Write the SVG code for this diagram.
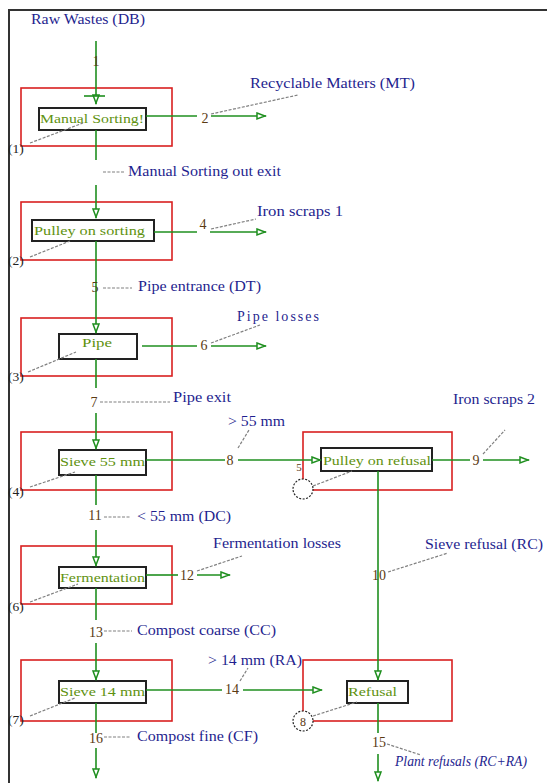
<svg xmlns="http://www.w3.org/2000/svg" width="547" height="783" viewBox="0 0 547 783">
<style>
.frame{stroke:#333;stroke-width:2;fill:none}
.outer{fill:none;stroke:#d92020;stroke-width:1.6}
.inner{fill:#fff;stroke:#222;stroke-width:2}
.nt{font-family:"Liberation Serif",serif;font-size:13.5px;fill:#5f9210}
.lb{font-family:"Liberation Serif",serif;font-size:14px;fill:#1f1f8f}
.num{font-family:"Liberation Serif",serif;font-size:14px;fill:#5a3a12;text-anchor:middle}
.idx{font-family:"Liberation Serif",serif;font-size:13.5px;fill:#222}
.ld{stroke:#808080;stroke-width:1.2;stroke-dasharray:3 1.5;fill:none}
.e{stroke:#1f8f1f;stroke-width:1.6;fill:none}
.ea{stroke:#1f8f1f;stroke-width:1.6;fill:none;marker-end:url(#arr)}
.circ{fill:#fff;stroke:#222;stroke-width:1.2;stroke-dasharray:2 1.5}
</style>
<defs>
<marker id="arr" markerUnits="userSpaceOnUse" markerWidth="12" markerHeight="10" viewBox="0 0 12 10" refX="11" refY="5" orient="auto">
<path d="M2,1.5 V8.5 M2,2 L10,5 L2,8 Z" fill="#fff" stroke="#1f8f1f" stroke-width="1.5"/>
</marker>
</defs>
<rect width="547" height="783" fill="#fff"/>
<g id="frame">
<line class="frame" x1="8" y1="10" x2="547" y2="10"/>
<line class="frame" x1="9" y1="10" x2="9" y2="783"/>
</g>
<g id="n1">
<rect class="outer" x="21" y="88" width="151" height="58"/>
<rect class="inner" x="39" y="108" width="107" height="22"/>
<text class="nt" x="40" y="123" textLength="104" lengthAdjust="spacingAndGlyphs">Manual Sorting!</text>
<line class="ld" x1="30" y1="143" x2="83" y2="123"/>
<text class="idx" x="8" y="153">(1)</text>
</g>
<g id="n2">
<rect class="outer" x="21" y="202" width="151" height="58"/>
<rect class="inner" x="32" y="220" width="122" height="21"/>
<text class="nt" x="34" y="235" textLength="111" lengthAdjust="spacingAndGlyphs">Pulley on sorting</text>
<line class="ld" x1="30" y1="257" x2="70" y2="241"/>
<text class="idx" x="8" y="265">(2)</text>
</g>
<g id="n3">
<rect class="outer" x="21" y="318" width="151" height="58"/>
<rect class="inner" x="59" y="334" width="78" height="25"/>
<text class="nt" x="82" y="347" textLength="30" lengthAdjust="spacingAndGlyphs">Pipe</text>
<line class="ld" x1="28" y1="372" x2="76" y2="352"/>
<text class="idx" x="8" y="381">(3)</text>
</g>
<g id="n4">
<rect class="outer" x="21" y="432" width="151" height="58"/>
<rect class="inner" x="59" y="450" width="87" height="25"/>
<text class="nt" x="60" y="466" textLength="85" lengthAdjust="spacingAndGlyphs">Sieve 55 mm</text>
<line class="ld" x1="30" y1="487" x2="75" y2="472"/>
<text class="idx" x="8" y="496">(4)</text>
</g>
<g id="n5">
<rect class="outer" x="303" y="432" width="149" height="58"/>
<rect class="inner" x="321" y="448" width="111" height="23"/>
<text class="nt" x="323" y="465" textLength="108" lengthAdjust="spacingAndGlyphs">Pulley on refusal</text>
<line class="ld" x1="313" y1="486" x2="352" y2="471"/>
<circle class="circ" cx="303" cy="489" r="10"/>
<text x="299" y="471" font-family="Liberation Serif,serif" font-size="11" fill="#5a3a12" text-anchor="middle">5</text>
</g>
<g id="n6">
<rect class="outer" x="21" y="546" width="151" height="58"/>
<rect class="inner" x="59" y="567" width="87" height="21"/>
<text class="nt" x="60" y="582" textLength="85" lengthAdjust="spacingAndGlyphs">Fermentation</text>
<line class="ld" x1="30" y1="602" x2="78" y2="584"/>
<text class="idx" x="8" y="611">(6)</text>
</g>
<g id="n7">
<rect class="outer" x="21" y="660" width="151" height="61"/>
<rect class="inner" x="59" y="681" width="87" height="22"/>
<text class="nt" x="60" y="696" textLength="85" lengthAdjust="spacingAndGlyphs">Sieve 14 mm</text>
<line class="ld" x1="30" y1="716" x2="75" y2="698"/>
<text class="idx" x="8" y="724">(7)</text>
</g>
<g id="n8">
<rect class="outer" x="303" y="660" width="149" height="61"/>
<rect class="inner" x="347" y="681" width="61" height="22"/>
<text class="nt" x="348" y="696" textLength="49" lengthAdjust="spacingAndGlyphs">Refusal</text>
<line class="ld" x1="313" y1="716" x2="357" y2="702"/>
<circle class="circ" cx="303" cy="721" r="10"/>
<text x="303" y="726" font-family="Liberation Serif,serif" font-size="12" fill="#5a3a12" text-anchor="middle">8</text>
</g>
<g id="connectors">
<line class="ea" x1="96" y1="41" x2="96" y2="104"/>
<line class="e" x1="84" y1="96" x2="105" y2="96"/>
<line class="e" x1="146" y1="116" x2="197" y2="116"/>
<line class="ea" x1="211" y1="116" x2="266" y2="116"/>
<line class="e" x1="96" y1="130" x2="96" y2="160"/>
<line class="ea" x1="96" y1="185" x2="96" y2="218"/>
<line class="e" x1="154" y1="232" x2="197" y2="232"/>
<line class="ea" x1="210" y1="232" x2="266" y2="232"/>
<line class="ea" x1="96" y1="241" x2="96" y2="333"/>
<line class="e" x1="142" y1="346" x2="197" y2="346"/>
<line class="ea" x1="211" y1="346" x2="266" y2="346"/>
<line class="e" x1="96" y1="359" x2="96" y2="388"/>
<line class="ea" x1="96" y1="413" x2="96" y2="449"/>
<line class="e" x1="146" y1="460" x2="225" y2="460"/>
<line class="ea" x1="238" y1="460" x2="321" y2="460"/>
<line class="e" x1="432" y1="460" x2="470" y2="460"/>
<line class="ea" x1="483" y1="460" x2="529" y2="460"/>
<line class="ea" x1="378" y1="471" x2="378" y2="680"/>
<line class="e" x1="96" y1="475" x2="96" y2="505"/>
<line class="ea" x1="96" y1="530" x2="96" y2="566"/>
<line class="e" x1="146" y1="575" x2="178" y2="575"/>
<line class="ea" x1="197" y1="575" x2="230" y2="575"/>
<line class="e" x1="96" y1="588" x2="96" y2="620"/>
<line class="ea" x1="96" y1="643" x2="96" y2="680"/>
<line class="e" x1="146" y1="690" x2="222" y2="690"/>
<line class="ea" x1="243" y1="690" x2="322" y2="690"/>
<line class="e" x1="378" y1="703" x2="378" y2="733"/>
<line class="ea" x1="378" y1="754" x2="378" y2="781"/>
<line class="e" x1="96" y1="703" x2="96" y2="733"/>
<line class="ea" x1="96" y1="748" x2="96" y2="778"/>
<!-- leaders -->
<line class="ld" x1="211" y1="114" x2="298" y2="95"/>
<line class="ld" x1="103" y1="172" x2="124" y2="172"/>
<line class="ld" x1="211" y1="229" x2="256" y2="219"/>
<line class="ld" x1="103" y1="288" x2="132" y2="288"/>
<line class="ld" x1="211" y1="343" x2="260" y2="325"/>
<line class="ld" x1="100" y1="402" x2="170" y2="402"/>
<line class="ld" x1="238" y1="448" x2="249" y2="430"/>
<line class="ld" x1="483" y1="454" x2="505" y2="430"/>
<line class="ld" x1="104" y1="517" x2="131" y2="517"/>
<line class="ld" x1="197" y1="571" x2="242" y2="556"/>
<line class="ld" x1="388" y1="572" x2="448" y2="553"/>
<line class="ld" x1="104" y1="631" x2="132" y2="631"/>
<line class="ld" x1="240" y1="681" x2="248" y2="668"/>
<line class="ld" x1="387" y1="744" x2="421" y2="755"/>
<line class="ld" x1="104" y1="737" x2="130" y2="737"/>
<!-- numbers -->
<text class="num" x="96" y="66">1</text>
<text class="num" x="205" y="123">2</text>
<text class="num" x="203" y="229">4</text>
<text class="num" x="95" y="292" font-size="11">5</text>
<text class="num" x="204" y="350">6</text>
<text class="num" x="94" y="407">7</text>
<text class="num" x="230" y="465">8</text>
<text class="num" x="476" y="465">9</text>
<text class="num" x="379" y="580">10</text>
<text class="num" x="95" y="520">11</text>
<text class="num" x="187" y="580">12</text>
<text class="num" x="96" y="637">13</text>
<text class="num" x="232" y="694">14</text>
<text class="num" x="379" y="747">15</text>
<text class="num" x="96" y="743">16</text>
<!-- labels -->
<text class="lb" x="31" y="24" textLength="114" lengthAdjust="spacingAndGlyphs">Raw Wastes (DB)</text>
<text class="lb" x="250" y="88" textLength="165" lengthAdjust="spacingAndGlyphs">Recyclable Matters (MT)</text>
<text class="lb" x="128" y="176" textLength="153" lengthAdjust="spacingAndGlyphs">Manual Sorting out exit</text>
<text class="lb" x="257" y="216" textLength="86" lengthAdjust="spacingAndGlyphs">Iron scraps 1</text>
<text class="lb" x="138" y="291" textLength="123" lengthAdjust="spacingAndGlyphs">Pipe entrance (DT)</text>
<text class="lb" x="237" y="321" textLength="82" lengthAdjust="spacing">Pipe losses</text>
<text class="lb" x="173" y="402" textLength="58" lengthAdjust="spacingAndGlyphs">Pipe exit</text>
<text class="lb" x="228" y="426" textLength="57" lengthAdjust="spacingAndGlyphs">&gt; 55 mm</text>
<text class="lb" x="453" y="404" textLength="82" lengthAdjust="spacingAndGlyphs">Iron scraps 2</text>
<text class="lb" x="137" y="521" textLength="94" lengthAdjust="spacingAndGlyphs">&lt; 55 mm (DC)</text>
<text class="lb" x="213" y="548" textLength="128" lengthAdjust="spacingAndGlyphs">Fermentation losses</text>
<text class="lb" x="425" y="549" textLength="118" lengthAdjust="spacingAndGlyphs">Sieve refusal (RC)</text>
<text class="lb" x="137" y="635" textLength="139" lengthAdjust="spacingAndGlyphs">Compost coarse (CC)</text>
<text class="lb" x="208" y="665" textLength="94" lengthAdjust="spacingAndGlyphs">&gt; 14 mm (RA)</text>
<text class="lb" x="137" y="741" textLength="121" lengthAdjust="spacingAndGlyphs">Compost fine (CF)</text>
<text class="lb" x="395" y="766" font-size="11.5" font-style="italic" textLength="132" lengthAdjust="spacingAndGlyphs">Plant refusals (RC+RA)</text>
</g>
</svg>
